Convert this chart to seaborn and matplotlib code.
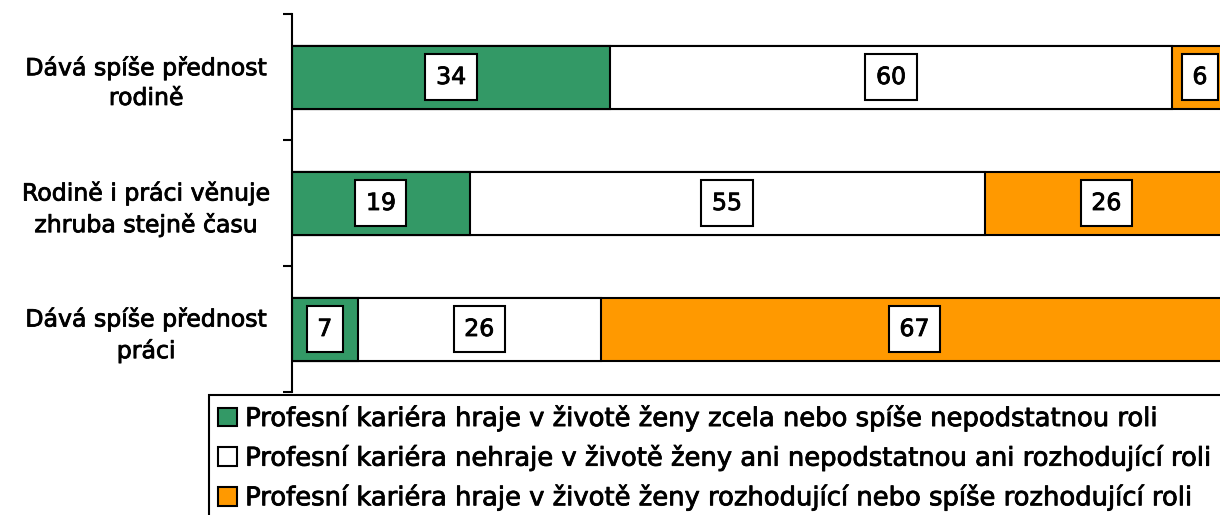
import matplotlib
matplotlib.use('Agg')

import numpy as np
import pandas as pd
import matplotlib.pyplot as plt
import matplotlib.patheffects as pe
import seaborn as sns
from matplotlib.patches import Patch

sns.set_style('white')
plt.rcParams['font.family'] = ['DejaVu Sans']
plt.rcParams['text.color'] = 'black'
plt.rcParams['ytick.color'] = 'black'

# ---------------- data ----------------
categories = ['Dává spíše přednost\nrodině',
              'Rodině i práci věnuje\nzhruba stejně času',
              'Dává spíše přednost\npráci']
series_names = ['Profesní kariéra hraje v životě ženy zcela nebo spíše nepodstatnou roli',
                'Profesní kariéra nehraje v životě ženy ani nepodstatnou ani rozhodující roli',
                'Profesní kariéra hraje v životě ženy rozhodující nebo spíše rozhodující roli']
nepodstatna = [34, 19, 7]
neutralni = [60, 55, 26]
rozhodujici = [6, 26, 67]
colors = ['#339966', '#FFFFFF', '#FF9900']

values = np.array([nepodstatna, neutralni, rozhodujici])
cums = values.cumsum(axis=0)

# slightly heavier text, like the original rendering
heavy = [pe.withStroke(linewidth=0.6, foreground='black')]

fig = plt.figure(figsize=(12.2, 5.15), dpi=100)
ax = fig.add_axes([292 / 1220, 123 / 515, (1228 - 292) / 1220, 378 / 515])

# stacked bars: draw cumulative totals from the largest down
for i in reversed(range(3)):
    df = pd.DataFrame({'cat': categories, 'val': cums[i]})
    sns.barplot(data=df, x='val', y='cat', orient='h', color=colors[i],
                saturation=1, width=0.5, edgecolor='black', linewidth=1.5, ax=ax)

# boxed value labels
for i in range(3):
    for j in range(3):
        xc = cums[i][j] - values[i][j] / 2
        t = ax.text(xc, j, f'{values[i][j]}', ha='center', va='center', fontsize=17,
                    bbox=dict(boxstyle='square,pad=0.45', facecolor='white',
                              edgecolor='black', linewidth=1.5))
        t.set_path_effects(heavy)

ax.set_xlim(0, 100)
ax.set_ylim(2.5, -0.5)
ax.set_xlabel('')
ax.set_ylabel('')
ax.set_xticks([])
ax.set_yticks([0, 1, 2])
ax.set_yticklabels(categories, fontsize=17, ha='center',
                   multialignment='center', linespacing=1.3)
for lbl in ax.get_yticklabels():
    lbl.set_path_effects(heavy)
ax.tick_params(axis='y', which='major', length=0, pad=105)
ax.set_yticks([-0.5, 0.5, 1.5, 2.5], minor=True)
ax.tick_params(axis='y', which='minor', length=6.5, width=1.5, color='black', left=True)
for s in ['top', 'right', 'bottom']:
    ax.spines[s].set_visible(False)
ax.spines['left'].set_color('black')
ax.spines['left'].set_linewidth(1.5)

handles = [Patch(facecolor=c, edgecolor='black', linewidth=1.5) for c in colors]
leg = fig.legend(handles, series_names, loc='upper left',
                 bbox_to_anchor=(209 / 1220, 1 - 395 / 515),
                 frameon=True, fancybox=False, edgecolor='black', framealpha=1,
                 handlelength=0.75, handleheight=0.75, handletextpad=0.3,
                 borderpad=0.35, labelspacing=0.45, borderaxespad=0,
                 prop={'family': ['DejaVu Sans'], 'size': 18.6})
leg.get_frame().set_linewidth(1.5)
for t in leg.get_texts():
    t.set_path_effects(heavy)

fig.savefig('out.png', dpi=100)
